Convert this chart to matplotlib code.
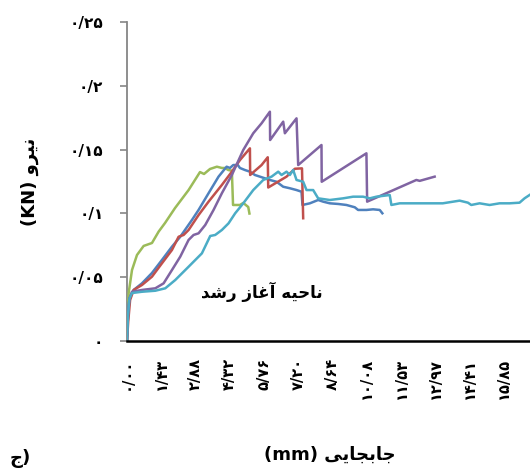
import matplotlib
matplotlib.use("Agg")
import matplotlib.pyplot as plt

# ---- Persian text shaping (presentation forms, visual order) ----
FORMS = {
    'ا': ('\uFE8D', '\uFE8E', None, None),
    'آ': ('\uFE81', '\uFE82', None, None),
    'ب': ('\uFE8F', '\uFE90', '\uFE91', '\uFE92'),
    'ج': ('\uFE9D', '\uFE9E', '\uFE9F', '\uFEA0'),
    'ح': ('\uFEA1', '\uFEA2', '\uFEA3', '\uFEA4'),
    'د': ('\uFEA9', '\uFEAA', None, None),
    'ر': ('\uFEAD', '\uFEAE', None, None),
    'ز': ('\uFEAF', '\uFEB0', None, None),
    'ش': ('\uFEB5', '\uFEB6', '\uFEB7', '\uFEB8'),
    'غ': ('\uFECD', '\uFECE', '\uFECF', '\uFED0'),
    'ن': ('\uFEE5', '\uFEE6', '\uFEE7', '\uFEE8'),
    'ه': ('\uFEE9', '\uFEEA', '\uFEEB', '\uFEEC'),
    'و': ('\uFEED', '\uFEEE', None, None),
    'ی': ('\uFEEF', '\uFEF0', '\uFEF3', '\uFEF4'),
}


def shape_fa(text):
    out = []
    n = len(text)
    for i, ch in enumerate(text):
        if ch not in FORMS:
            out.append(ch)
            continue
        prev = text[i - 1] if i > 0 else ''
        nxt = text[i + 1] if i < n - 1 else ''
        join_prev = prev in FORMS and FORMS[prev][2] is not None
        join_next = FORMS[ch][2] is not None and nxt in FORMS
        iso, fin, ini, med = FORMS[ch]
        if join_prev and join_next:
            out.append(med)
        elif join_prev:
            out.append(fin)
        elif join_next:
            out.append(ini)
        else:
            out.append(iso)
    return ''.join(reversed(out))


# ---- data: displacement (mm) vs force (kN) ----
green_x = [0, 0.03, 0.07, 0.21, 0.42, 0.70, 1.05, 1.33, 1.60, 2.02, 2.59, 3.07, 3.24,
           3.49, 3.78, 3.99, 4.12, 4.26, 4.41, 4.46, 4.75, 4.89, 5.10, 5.15]
green_y = [0, 0.020, 0.0376, 0.0556, 0.0674, 0.0745, 0.0768, 0.0857, 0.0925, 0.1042,
           0.1183, 0.1324, 0.1309, 0.1348, 0.1366, 0.1356, 0.1356, 0.1340, 0.1335,
           0.1066, 0.1066, 0.1082, 0.1050, 0.0999]

blue_x = [0, 0.04, 0.10, 0.21, 0.28, 0.63, 1.05, 1.47, 1.89, 2.24, 2.73, 3.01, 3.43,
          3.85, 4.19, 4.33, 4.47, 4.66, 4.75, 4.96, 5.17, 5.38, 5.59, 5.80, 6.01,
          6.29, 6.57, 6.85, 7.13, 7.34, 7.38, 7.69, 8.04, 8.25, 8.53, 8.88, 9.23,
          9.58, 9.72, 10.07, 10.35, 10.63, 10.74]
blue_y = [0, 0.020, 0.033, 0.0376, 0.0400, 0.0452, 0.0533, 0.0635, 0.0739, 0.0817,
          0.0948, 0.1027, 0.1158, 0.1288, 0.1366, 0.1356, 0.1379, 0.1379, 0.1356,
          0.1340, 0.1327, 0.1301, 0.1288, 0.1275, 0.1262, 0.1248, 0.1209, 0.1197,
          0.1183, 0.1170, 0.1066, 0.1079, 0.1105, 0.1092, 0.1079, 0.1074, 0.1066,
          0.1048, 0.1027, 0.1027, 0.1032, 0.1027, 0.1001]

red_x = [0, 0.05, 0.13, 0.28, 0.63, 1.05, 1.47, 1.89, 2.17, 2.38, 2.59, 3.01, 3.43,
         3.99, 4.41, 4.75, 5.17, 5.18, 5.66, 5.92, 5.94, 6.71, 7.06, 7.36, 7.41]
red_y = [0, 0.015, 0.0321, 0.0400, 0.0439, 0.0504, 0.0609, 0.0713, 0.0817, 0.0831,
         0.0870, 0.0987, 0.1092, 0.1223, 0.1327, 0.1418, 0.1510, 0.1301, 0.1379,
         0.1440, 0.1203, 0.1288, 0.1350, 0.1353, 0.0962]

purple_x = [0, 0.04, 0.10, 0.21, 0.63, 1.19, 1.54, 1.89, 2.24, 2.59, 2.80, 3.01,
            3.29, 3.64, 3.99, 4.41, 4.89, 5.31, 5.66, 6.01, 6.02, 6.57, 6.64, 7.13,
            7.20, 8.18, 8.19, 10.07, 10.10, 11.05, 12.17, 12.31, 12.94]
purple_y = [0, 0.020, 0.033, 0.0386, 0.0400, 0.0413, 0.0452, 0.0556, 0.0661, 0.0792,
            0.0831, 0.0844, 0.0909, 0.1027, 0.1158, 0.1301, 0.1497, 0.1628, 0.1706,
            0.1797, 0.1575, 0.1719, 0.1628, 0.1745, 0.1379, 0.1536, 0.1248, 0.1471,
            0.1092, 0.1170, 0.1262, 0.1255, 0.1288]

cyan_x = [0, 0.04, 0.10, 0.21, 0.63, 1.19, 1.61, 2.03, 2.59, 3.15, 3.50, 3.71, 3.99,
          4.27, 4.55, 4.89, 5.31, 5.73, 6.08, 6.36, 6.50, 6.71, 6.85, 6.99, 7.13,
          7.41, 7.55, 7.83, 8.04, 8.53, 9.09, 9.51, 9.93, 10.21, 10.49, 11.05, 11.12,
          11.47, 12.03, 12.73, 13.28, 13.99, 14.34, 14.48, 14.83, 15.25, 15.67,
          16.09, 16.51, 16.72, 16.93]
cyan_y = [0, 0.020, 0.033, 0.0376, 0.0386, 0.0394, 0.0413, 0.0478, 0.0582, 0.0687,
          0.0823, 0.0831, 0.0870, 0.0922, 0.1001, 0.1079, 0.1183, 0.1262, 0.1288,
          0.1327, 0.1301, 0.1327, 0.1301, 0.1340, 0.1262, 0.1248, 0.1183, 0.1183,
          0.1118, 0.1105, 0.1118, 0.1131, 0.1131, 0.1118, 0.1131, 0.1144, 0.1066,
          0.1079, 0.1079, 0.1079, 0.1079, 0.1100, 0.1084, 0.1066, 0.1079, 0.1066,
          0.1079, 0.1079, 0.1084, 0.1118, 0.1144]

series = [
    (green_x, green_y, '#9BBB59'),
    (blue_x, blue_y, '#4F81BD'),
    (red_x, red_y, '#C0504D'),
    (purple_x, purple_y, '#8064A2'),
    (cyan_x, cyan_y, '#4BACC6'),
]

x_ticks = [0.0, 1.43, 2.88, 4.32, 5.76, 7.20, 8.64, 10.08, 11.53, 12.97, 14.41, 15.85]
x_tick_labels = ['۰/۰۰', '۱/۴۳', '۲/۸۸', '۴/۳۲', '۵/۷۶', '۷/۲۰', '۸/۶۴',
                 '۱۰/۰۸', '۱۱/۵۳', '۱۲/۹۷', '۱۴/۴۱', '۱۵/۸۵']
y_ticks = [0, 0.05, 0.10, 0.15, 0.20, 0.25]
y_tick_labels = ['۰', '۰/۰۵', '۰/۱', '۰/۱۵', '۰/۲', '۰/۲۵']

x_title = '(mm) ' + shape_fa('جابجایی')
y_title = '(KN) ' + shape_fa('نیرو')
region_note = shape_fa('ناحیه آغاز رشد')
panel_tag = shape_fa('ج') + ')'

plt.rcParams['font.family'] = ['DejaVu Sans']
plt.rcParams['font.weight'] = 'bold'

fig = plt.figure(figsize=(5.30, 4.72), dpi=100)
ax = fig.add_axes([127 / 530, 131 / 472, 1 - 127 / 530, 319 / 472])

for xs, ys, col in series:
    ax.plot(xs, ys, color=col, lw=1.8, solid_joinstyle='round', zorder=3)

ax.set_xlim(0, 16.95)
ax.set_ylim(0, 0.25)

ax.set_yticks(y_ticks)
ax.set_yticklabels(y_tick_labels, fontsize=11, fontweight='bold')
ax.set_xticks(x_ticks)
ax.set_xticklabels(x_tick_labels, rotation=90, fontsize=10.5, fontweight='bold',
                   va='top', ha='center')

ax.tick_params(axis='y', direction='out', length=5, width=1.2, color='#868686', pad=12)
ax.tick_params(axis='x', length=0, pad=12)

for side in ('top', 'right'):
    ax.spines[side].set_visible(False)
ax.spines['left'].set_color('#868686')
ax.spines['left'].set_linewidth(1.3)
ax.spines['bottom'].set_color('black')
ax.spines['bottom'].set_linewidth(1.8)
ax.spines['bottom'].set_zorder(4)

fig.text(30 / 530, 1 - 182 / 472, y_title, rotation=90, fontsize=13,
         fontweight='bold', ha='center', va='center')
fig.text(330 / 530, 1 - 455 / 472, x_title, fontsize=13,
         fontweight='bold', ha='center', va='center')
fig.text(20 / 530, 1 - 458 / 472, panel_tag, fontsize=13,
         fontweight='bold', ha='center', va='center')
ax.text(5.65, 0.0385, region_note, fontsize=12, fontweight='bold',
        ha='center', va='center', zorder=5)

fig.savefig('out.png', dpi=100)
